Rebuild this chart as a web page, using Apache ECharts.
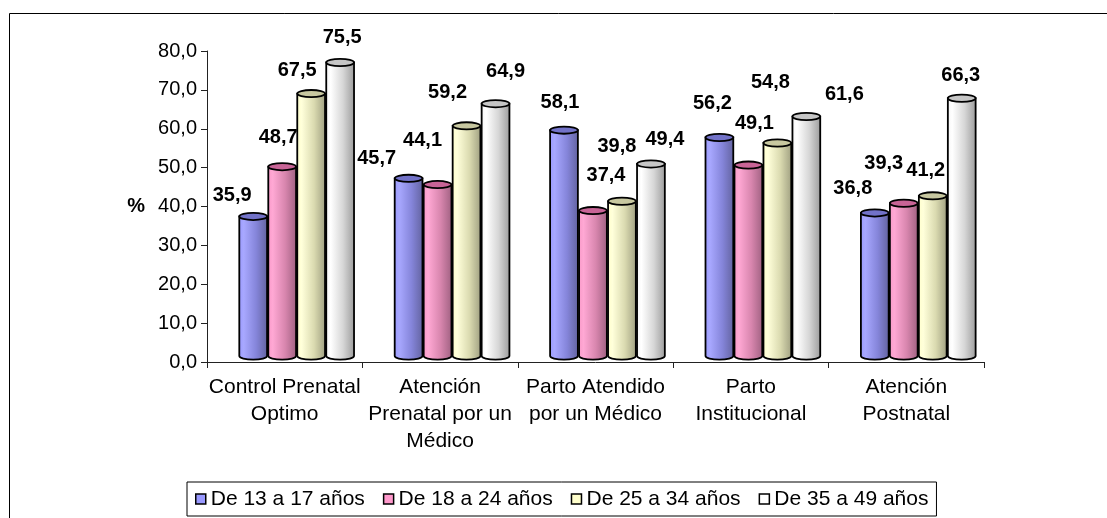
<!DOCTYPE html>
<html>
<head>
<meta charset="utf-8">
<script src="https://cdn.jsdelivr.net/npm/echarts@6/dist/echarts.min.js"></script>
<style>
html,body{margin:0;padding:0;background:#fff;}
#chart{width:1107px;height:518px;}
</style>
</head>
<body>
<div id="chart"></div>
<script>
// ---- data ----
const categories = ['Control Prenatal\nOptimo', 'Atención\nPrenatal por un\nMédico', 'Parto Atendido\npor un Médico', 'Parto\nInstitucional', 'Atención\nPostnatal'];
const seriesNames = ['De 13 a 17 años', 'De 18 a 24 años', 'De 25 a 34 años', 'De 35 a 49 años'];
const age13to17 = [35.9, 45.7, 58.1, 56.2, 36.8];
const age18to24 = [48.7, 44.1, 37.4, 49.1, 39.3];
const age25to34 = [67.5, 59.2, 39.8, 54.8, 41.2];
const age35to49 = [75.5, 64.9, 49.4, 61.6, 66.3];
const yMin = 0, yMax = 80, yInterval = 10;

// ---- style ----
const FONT = "'Liberation Sans', Arial, sans-serif";
const seriesValues = [age13to17, age18to24, age25to34, age35to49];
const styles = [
  {legend: '#9999FF', top: '#7272C8', stops: ['#9999FF', '#A8A8FF', '#8585DA', '#62629E']},
  {legend: '#FF99CC', top: '#C86496', stops: ['#F899C8', '#FFA8D4', '#D886AE', '#9E6080']},
  {legend: '#FFFFCC', top: '#C8C8A0', stops: ['#FFFFCC', '#FFFFDA', '#DADAB0', '#9E9E80']},
  {legend: '#FFFFFF', top: '#C6C6C6', stops: ['#F4F4F4', '#FFFFFF', '#D6D6D6', '#9A9A9A']}
];
// label offsets relative to each cylinder top (as placed in the original)
const labelOffsets = [
  [[-21,-21],[-32,-20],[-4,-28],[-7,-34],[-22,-24]],
  [[-4,-29],[-15,-44],[13,-35],[6,-42],[-20,-40]],
  [[-14,-23],[-19,-33],[-5,-55],[-7,-60],[-7,-25]],
  [[2,-25],[10,-32],[14,-24],[38,-22],[-1,-23]]
];

function fmt(v){ return v.toFixed(1).replace('.', ','); }

function makeRender(si){
  return function(params, api){
    const ci = api.value(0), v = api.value(1);
    const p0 = api.coord([ci, 0]);
    const p1 = api.coord([ci, v]);
    const band = api.size([1, 0])[0];
    const barW = band * 0.1865;
    const depthX = band * 0.077, depthY = -6;
    const cx = p0[0] + depthX + (si - 1.5) * barW;
    const r = barW / 2 - 0.6, ry = 3.6;
    const l = cx - r, rr = cx + r;
    const by = p0[1] + depthY, ty = p1[1] + depthY;
    const st = styles[si];
    const body = 'M' + l + ' ' + ty + ' L' + l + ' ' + by +
      ' A' + r + ' ' + ry + ' 0 0 0 ' + rr + ' ' + by +
      ' L' + rr + ' ' + ty + ' Z';
    const topE = 'M' + l + ' ' + ty + ' A' + r + ' ' + ry + ' 0 1 0 ' + rr + ' ' + ty +
      ' A' + r + ' ' + ry + ' 0 1 0 ' + l + ' ' + ty + ' Z';
    const off = labelOffsets[si][ci];
    return {
      type: 'group',
      children: [
        {type: 'path', shape: {pathData: body}, style: {
          fill: new echarts.graphic.LinearGradient(0, 0, 1, 0, [
            {offset: 0, color: st.stops[0]}, {offset: 0.18, color: st.stops[1]},
            {offset: 0.6, color: st.stops[2]}, {offset: 1, color: st.stops[3]}]),
          stroke: '#000', lineWidth: 1.8}},
        {type: 'path', shape: {pathData: topE}, style: {fill: st.top, stroke: '#000', lineWidth: 1.8}},
        {type: 'text', style: {text: fmt(v), x: cx + off[0], y: ty + off[1],
          textAlign: 'center', textVerticalAlign: 'middle', align: 'center', verticalAlign: 'middle',
          fill: '#000', font: 'bold 20px ' + FONT}}
      ]
    };
  };
}

const chart = echarts.init(document.getElementById('chart'), null, {renderer: 'canvas'});
chart.setOption({
  animation: false,
  backgroundColor: '#fff',
  graphic: [{type: 'rect', left: 7, top: 11, shape: {width: 1200, height: 600}, silent: true,
    style: {fill: 'none', stroke: '#000', lineWidth: 1}}],
  grid: {left: 207, right: 123, top: 51, bottom: 156},
  legend: {
    left: 187, top: 482, padding: [6, 8], itemGap: 18, itemWidth: 10, itemHeight: 10,
    borderColor: '#000', borderWidth: 1, backgroundColor: '#fff',
    textStyle: {fontFamily: FONT, fontSize: 21, color: '#000', lineHeight: 22},
    data: seriesNames.map((n, i) => ({name: n, icon: 'rect',
      itemStyle: {color: styles[i].legend, borderColor: '#000', borderWidth: 1.5}}))
  },
  xAxis: {
    type: 'category', data: categories, boundaryGap: true,
    axisLine: {lineStyle: {color: '#222', width: 1}},
    axisTick: {show: true, length: 6, inside: false, lineStyle: {color: '#222'}},
    axisLabel: {interval: 0, margin: 12, fontFamily: FONT, fontSize: 21, lineHeight: 27, color: '#000', align: 'center'},
    splitLine: {show: false}
  },
  yAxis: {
    type: 'value', min: yMin, max: yMax, interval: yInterval,
    name: '%', nameLocation: 'middle', nameRotate: 0, nameGap: 62,
    nameTextStyle: {fontFamily: FONT, fontSize: 20, fontWeight: 'bold', color: '#000'},
    axisLine: {show: true, lineStyle: {color: '#222', width: 1}},
    axisTick: {show: true, length: 6, lineStyle: {color: '#222'}},
    axisLabel: {margin: 10, fontFamily: FONT, fontSize: 20, color: '#000', formatter: fmt},
    splitLine: {show: false}
  },
  series: seriesValues.map((vals, si) => ({
    type: 'custom', name: seriesNames[si],
    itemStyle: {color: styles[si].legend},
    encode: {x: 0, y: 1},
    renderItem: makeRender(si),
    data: vals.map((v, i) => [i, v])
  }))
});
</script>
</body>
</html>
